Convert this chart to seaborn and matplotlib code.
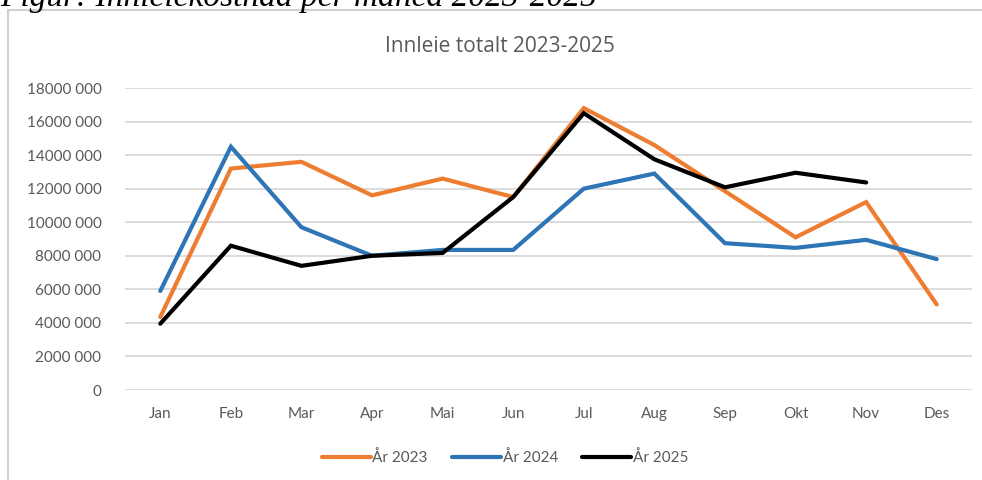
import matplotlib
matplotlib.use("Agg")
import matplotlib.pyplot as plt
import seaborn as sns
import pandas as pd
from matplotlib.ticker import FuncFormatter
from matplotlib.lines import Line2D

months = ["Jan", "Feb", "Mar", "Apr", "Mai", "Jun", "Jul", "Aug", "Sep", "Okt", "Nov", "Des"]
aar_2023 = [4.35e6, 13.2e6, 13.6e6, 11.6e6, 12.6e6, 11.5e6, 16.8e6, 14.6e6, 11.85e6, 9.1e6, 11.2e6, 5.1e6]
aar_2024 = [5.9e6, 14.5e6, 9.7e6, 8.0e6, 8.35e6, 8.35e6, 12.0e6, 12.9e6, 8.75e6, 8.47e6, 8.95e6, 7.8e6]
aar_2025 = [3.95e6, 8.6e6, 7.4e6, 8.0e6, 8.17e6, 11.5e6, 16.5e6, 13.75e6, 12.08e6, 12.95e6, 12.37e6, None]
series_names = ["År 2023", "År 2024", "År 2025"]
colors = ["#ED7D31", "#2E75B6", "#000000"]

rows = []
for name, vals in zip(series_names, [aar_2023, aar_2024, aar_2025]):
    for i, (m, v) in enumerate(zip(months, vals)):
        if v is not None:
            rows.append({"idx": i, "month": m, "value": v, "serie": name})
df = pd.DataFrame(rows)

sns.set_style("white")
plt.rcParams["font.family"] = ["Lato", "DejaVu Sans"]
grey = "#595959"

fig = plt.figure(figsize=(9.82, 4.80), dpi=100)
ax = fig.add_axes([125 / 982, 1 - 390 / 480, 847 / 982, 302 / 480])

sns.lineplot(data=df, x="idx", y="value", hue="serie", palette=colors,
             hue_order=series_names, linewidth=3.0, ax=ax, legend=False,
             solid_capstyle="round", solid_joinstyle="miter")

ax.set_xlim(-0.5, 11.5)
ax.set_ylim(0, 18e6)
ax.set_yticks(range(0, 18000001, 2000000))
ax.yaxis.set_major_formatter(FuncFormatter(
    lambda v, p: "0" if v == 0 else f"{int(v // 1000)} 000"))
ax.set_xticks(range(12))
ax.set_xticklabels(months)
ax.grid(axis="y", color="#D9D9D9", linewidth=1.3)
ax.set_axisbelow(True)
for s in ax.spines.values():
    s.set_visible(False)
ax.tick_params(axis="both", length=0, labelsize=11, labelcolor=grey)
ax.tick_params(axis="y", pad=17)
ax.tick_params(axis="x", pad=12)
ax.set_xlabel("")
ax.set_ylabel("")

fig.text(500 / 982, 1 - 47 / 480, "Innleie totalt 2023-2025", ha="center",
         va="center", fontsize=15, color=grey, family=["Open Sans", "DejaVu Sans"])

# caption, cut off at the top of the image as in the source
fig.text(0, 1 - 6 / 480, "Figur: Innleiekostnad per måned 2023-2025",
         ha="left", va="baseline", fontsize=24, style="italic",
         family=["Liberation Serif", "DejaVu Serif"], color="black")

# outer frame (left and top only visible)
fig.add_artist(Line2D([8 / 982, 8 / 982], [0, 1 - 10 / 480], color="#D0D0D0",
                      linewidth=1.5, transform=fig.transFigure))
fig.add_artist(Line2D([8 / 982, 1], [1 - 10 / 480, 1 - 10 / 480], color="#D0D0D0",
                      linewidth=1.5, transform=fig.transFigure))

handles = [Line2D([0], [0], color=c, linewidth=3.0, solid_capstyle="round")
           for c in colors]
fig.legend(handles, series_names, loc="center", bbox_to_anchor=(505 / 982, 1 - 458 / 480),
           ncol=3, frameon=False, fontsize=11, labelcolor=grey, handlelength=3.2,
           handletextpad=0.1, columnspacing=1.6)

fig.savefig("out.png", dpi=100)
